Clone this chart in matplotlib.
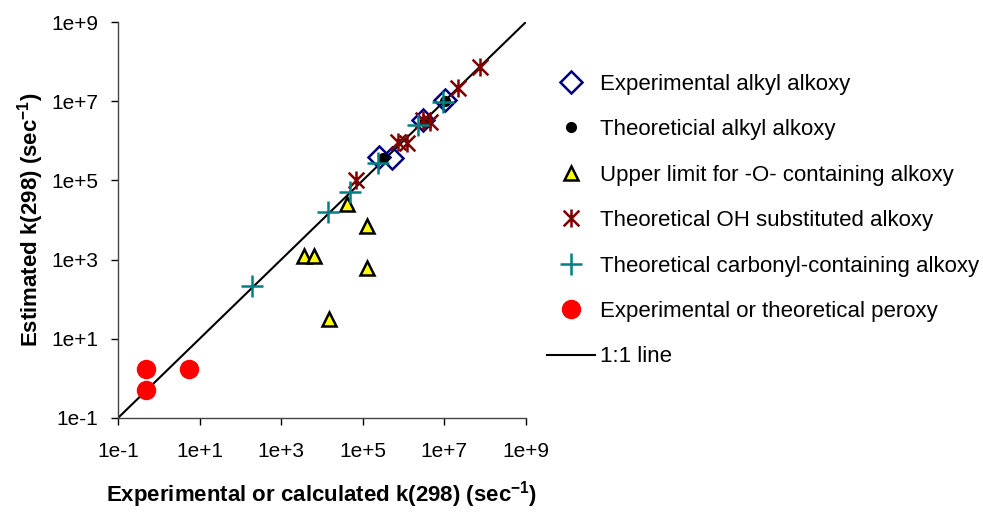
import numpy as np
import matplotlib.pyplot as plt
from matplotlib.path import Path
from matplotlib.lines import Line2D

plt.rcParams['font.family'] = ['Liberation Sans', 'DejaVu Sans']
plt.rcParams['mathtext.default'] = 'regular'

# Dados
exp_alkyl_x = [2.5e5, 5.1e5, 3.0e6, 1.02e7]
exp_alkyl_y = [3.8e5, 3.6e5, 3.4e6, 1.07e7]

theo_alkyl_x = [3.1e5, 3.3e6, 1.02e7]
theo_alkyl_y = [3.6e5, 3.2e6, 1.0e7]

upper_o_x = [4.2e4, 1.25e5, 3.6e3, 6.3e3, 1.25e5, 1.5e4]
upper_o_y = [2.6e4, 7.0e3, 1.25e3, 1.25e3, 6.3e2, 32]

oh_x = [6.7e4, 7.4e5, 1.2e6, 3.0e6, 4.5e6, 2.2e7, 7.4e7]
oh_y = [1.0e5, 9.5e5, 9.0e5, 3.4e6, 3.0e6, 2.2e7, 7.4e7]

carbonyl_x = [189, 1.43e4, 5.0e4, 2.4e5, 2.3e6, 9.3e6]
carbonyl_y = [220, 1.6e4, 5.1e4, 2.7e5, 2.5e6, 9.8e6]

peroxy_x = [0.5, 0.5, 5.5]
peroxy_y = [1.7, 0.5, 1.7]

line_xy = [0.1, 1e9]

ticks = [1e-1, 1e1, 1e3, 1e5, 1e7, 1e9]
tick_labels = ['1e-1', '1e+1', '1e+3', '1e+5', '1e+7', '1e+9']

# marcador asterisco estilo Excel (X com barra vertical)
asterisk = Path([(-1, -1), (1, 1), (-1, 1), (1, -1), (0, -1.15), (0, 1.15)],
                [Path.MOVETO, Path.LINETO, Path.MOVETO, Path.LINETO, Path.MOVETO, Path.LINETO])

fig = plt.figure(figsize=(9.83, 5.12), dpi=100)
ax = fig.add_axes([0.12, 0.1836, 0.415, 0.7734])

l_line, = ax.plot(line_xy, line_xy, color='black', lw=1.5, zorder=1, label='1:1 line')
h1, = ax.plot(exp_alkyl_x, exp_alkyl_y, 'D', ms=11, mfc='none', mec='#000080', mew=1.8,
              ls='none', label='Experimental alkyl alkoxy', zorder=2)
h2, = ax.plot(theo_alkyl_x, theo_alkyl_y, 'o', ms=7, color='black',
              ls='none', label='Theoreticial alkyl alkoxy', zorder=3)
h3, = ax.plot(upper_o_x, upper_o_y, '^', ms=10, mfc='#ffff00', mec='black', mew=1.8,
              ls='none', label='Upper limit for -O- containing alkoxy', zorder=3)
h4, = ax.plot(oh_x, oh_y, marker=asterisk, ms=13, color='#800000', mew=1.8,
              ls='none', label='Theoretical OH substituted alkoxy', zorder=4)
h5, = ax.plot(carbonyl_x, carbonyl_y, '+', ms=16, color='#008080', mew=1.8,
              ls='none', label='Theoretical carbonyl-containing alkoxy', zorder=5)
h6, = ax.plot(peroxy_x, peroxy_y, 'o', ms=13, color='#ff0000',
              ls='none', label='Experimental or theoretical peroxy', zorder=5)

ax.set_xscale('log')
ax.set_yscale('log')
ax.set_xlim(1e-1, 1e9)
ax.set_ylim(1e-1, 1e9)
ax.set_xticks(ticks)
ax.set_xticklabels(tick_labels)
ax.set_yticks(ticks)
ax.set_yticklabels(tick_labels)
ax.minorticks_off()
ax.tick_params(axis='both', direction='out', length=5, width=1, labelsize=15)
ax.tick_params(axis='x', pad=12)
ax.tick_params(axis='y', pad=9)
ax.spines['top'].set_visible(False)
ax.spines['right'].set_visible(False)
for s in ['left', 'bottom']:
    ax.spines[s].set_linewidth(1)
    ax.spines[s].set_color('#444444')

ax.set_xlabel('Experimental or calculated k(298) (sec$^{-1}$)', fontsize=16,
              fontweight='bold', labelpad=13)
ax.set_ylabel('Estimated k(298) (sec$^{-1}$)', fontsize=16, fontweight='bold', labelpad=4)

leg = fig.legend(handles=[h1, h2, h3, h4, h5, h6, l_line], loc='upper left',
                 bbox_to_anchor=(0.556, 0.856), frameon=False, fontsize=16,
                 labelspacing=1.1, handlelength=2.2, handletextpad=0.2, numpoints=1,
                 borderaxespad=0, borderpad=0)

fig.savefig('out.png', dpi=100)
